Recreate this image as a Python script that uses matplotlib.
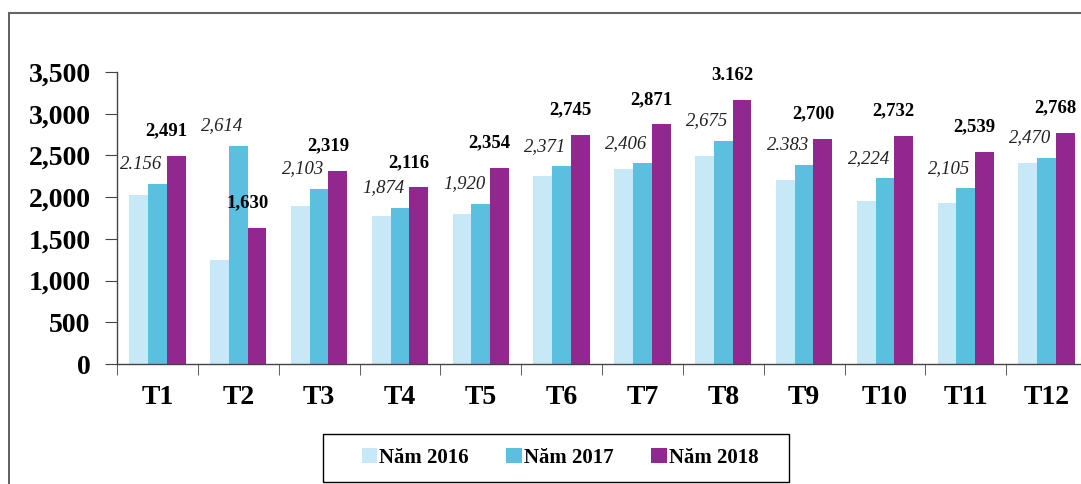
import numpy as np
import matplotlib
matplotlib.use('Agg')
from matplotlib import pyplot as plt
from matplotlib.lines import Line2D
from matplotlib.patches import Rectangle

# Dữ liệu theo tháng
thang = ['T1', 'T2', 'T3', 'T4', 'T5', 'T6', 'T7', 'T8', 'T9', 'T10', 'T11', 'T12']
nam_2016 = [2020, 1250, 1890, 1770, 1800, 2250, 2340, 2490, 2200, 1950, 1930, 2410]
nam_2017 = [2156, 2614, 2103, 1874, 1920, 2371, 2406, 2675, 2383, 2224, 2105, 2470]
nam_2018 = [2491, 1630, 2319, 2116, 2354, 2745, 2871, 3162, 2700, 2732, 2539, 2768]
nhan_2017 = ['2.156', '2,614', '2,103', '1,874', '1,920', '2,371', '2,406', '2,675',
             '2.383', '2,224', '2,105', '2,470']
nhan_2018 = ['2,491', '1,630', '2,319', '2,116', '2,354', '2,745', '2,871', '3.162',
             '2,700', '2,732', '2,539', '2,768']
ten_chuoi = ['Năm 2016', 'Năm 2017', 'Năm 2018']
mau = ['#C6E8F7', '#5BC0E0', '#92278F']

plt.rcParams['font.family'] = ['Liberation Serif', 'DejaVu Serif']

W, H = 1081, 484
fig = plt.figure(figsize=(W / 100, H / 100), dpi=100)
ax = fig.add_axes([117 / W, 120 / H, 970 / W, 292 / H])

x = np.arange(len(thang))
w = 0.232
for k, (vals, c) in enumerate(zip([nam_2016, nam_2017, nam_2018], mau)):
    ax.bar(x + (k - 1) * w, vals, width=w, color=c, label=ten_chuoi[k], zorder=2)

# nhãn số liệu
for i in range(len(thang)):
    ax.text(x[i] - 0.2, nam_2017[i] + 240, nhan_2017[i], ha='center', va='center',
            fontsize=13.5, style='italic', color='#222222')
    ax.text(x[i] + 0.11, nam_2018[i] + 300, nhan_2018[i], ha='center', va='center',
            fontsize=13.5, fontweight='bold', color='black')

ax.set_xlim(-0.5, 11.5)
ax.set_ylim(0, 3500)
ax.set_yticks(np.arange(0, 3501, 500))
ax.set_yticklabels([f'{v:,}' for v in range(0, 3501, 500)], fontsize=20, fontweight='bold')
ax.set_xticks(x)
ax.set_xticklabels(thang, fontsize=20, fontweight='bold')
ax.set_xticks(np.arange(-0.5, 12, 1), minor=True)
ax.tick_params(axis='x', which='major', length=0, pad=15)
ax.tick_params(axis='x', which='minor', length=8, direction='out', color='#444444')
ax.tick_params(axis='y', length=9, direction='out', color='#444444', pad=10)

for s in ['top', 'right']:
    ax.spines[s].set_visible(False)
for s in ['left', 'bottom']:
    ax.spines[s].set_color('#444444')
    ax.spines[s].set_linewidth(1.0)

# khung ngoài
fig.add_artist(Line2D([9 / W, 9 / W], [0, 1 - 13 / H], transform=fig.transFigure,
                      color='#444444', lw=1.2))
fig.add_artist(Line2D([9 / W, 1], [1 - 13 / H, 1 - 13 / H], transform=fig.transFigure,
                      color='#666666', lw=1.5))

# chú thích
fig.add_artist(Rectangle((323 / W, 1 - 482 / H), 466 / W, 48 / H, transform=fig.transFigure,
                         fill=False, edgecolor='black', lw=1.0))
fig.legend(loc='center', bbox_to_anchor=(560 / W, 1 - 458 / H), ncol=3,
           frameon=False, prop={'weight': 'bold', 'size': 15}, handlelength=0.75,
           handleheight=0.75, handletextpad=0.1, columnspacing=1.8,
           borderpad=0, borderaxespad=0)

fig.savefig('out.png', dpi=100)
